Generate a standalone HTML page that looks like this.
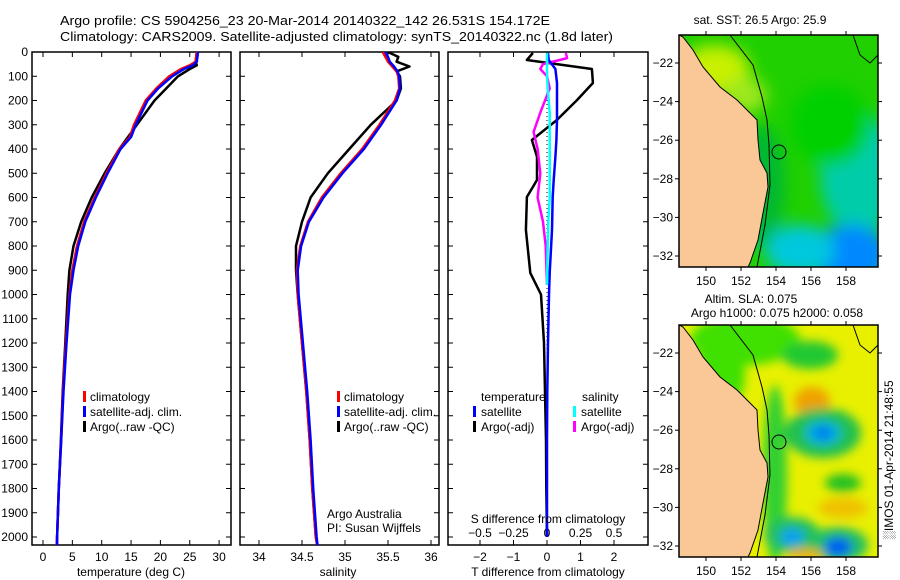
<!DOCTYPE html>
<html><head><meta charset="utf-8">
<style>
body{margin:0;background:#fff;}
svg{display:block;font-family:"Liberation Sans",sans-serif;}
text{font-size:12px;fill:#000;}
</style></head>
<body>
<svg id="fig" width="900" height="580" viewBox="0 0 900 580">
<defs>
<filter id="bl" x="-50%" y="-50%" width="200%" height="200%"><feGaussianBlur stdDeviation="8"/></filter>
<filter id="bl2" x="-50%" y="-50%" width="200%" height="200%"><feGaussianBlur stdDeviation="5"/></filter>
<clipPath id="cm1"><rect x="679" y="35" width="199" height="232"/></clipPath>
<clipPath id="cm2"><rect x="679" y="325" width="199" height="232"/></clipPath>
<clipPath id="cp1"><rect x="32" y="52" width="199" height="493"/></clipPath>
<clipPath id="cp2"><rect x="240" y="52" width="199" height="493"/></clipPath>
<clipPath id="cp3"><rect x="448" y="52" width="200" height="493"/></clipPath>
</defs>
<text x="60" y="25" textLength="490" lengthAdjust="spacingAndGlyphs" style="font-size:13px">Argo profile: CS 5904256_23 20-Mar-2014 20140322_142 26.531S 154.172E</text>
<text x="60" y="41" textLength="553" lengthAdjust="spacingAndGlyphs" style="font-size:13px">Climatology: CARS2009. Satellite-adjusted climatology: synTS_20140322.nc (1.8d later)</text>
<g id="g"></g>
</svg>
<script>
// ---- profile data ----
const tDepth = [0,40,55,70,100,150,200,300,350,400,500,600,700,800,900,1000,1200,1400,1600,1800,2000,2060];
const tClim  = [26.2,26,25,23.5,21.5,19.3,17.5,15.5,14.8,13,10.8,8.8,7,5.8,5,4.5,3.9,3.4,3.1,2.7,2.4,2.35];
const tSat   = [26.4,26.2,25.5,24,22,19.6,17.8,15.8,15,13.2,11,9,7.2,6,5.2,4.6,4,3.5,3.1,2.7,2.4,2.35];
const tArgo  = [26.2,26,26.2,25,23,21,19,16,14.5,13,10.5,8.3,6.5,5.2,4.5,4.2,3.8,3.35,3.05,2.7,2.4,2.35];
const sDepth = [0,20,40,60,80,100,150,200,300,400,500,600,700,800,900,1000,1200,1400,1600,1800,2000,2060];
const sClim  = [35.44,35.47,35.5,35.55,35.6,35.62,35.63,35.58,35.4,35.2,34.95,34.73,34.57,34.48,34.44,34.45,34.5,34.55,34.59,34.62,34.66,34.69];
const sSat   = [35.47,35.5,35.52,35.57,35.61,35.63,35.64,35.6,35.42,35.22,34.97,34.75,34.58,34.49,34.45,34.46,34.51,34.56,34.6,34.63,34.67,34.69];
const sArgo  = [35.5,35.62,35.6,35.75,35.6,35.64,35.65,35.6,35.3,35.05,34.8,34.6,34.5,34.43,34.43,34.45,34.5,34.55,34.59,34.62,34.66,34.69];
const dDepth = [4,33,70,128,198,280,363,432,528,598,734,911,1000,1200,1400,1600,1800,2000];
const dTArgo = [-0.42,-0.6,1.34,1.37,0.9,0.3,-0.45,-0.3,-0.3,-0.6,-0.63,-0.5,-0.18,-0.09,-0.06,-0.03,-0.02,0];
const dTSat  = [0.03,0.05,0.25,0.3,0.3,0.3,0.28,0.25,0.2,0.17,0.15,0.08,0.06,0.03,0.01,0,0,0];
const sdDepth= [4,25,50,70,100,150,250,330,400,500,600,700,800,960];
const dSArgo = [0.14,0.15,-0.03,-0.05,0.0,0.02,-0.05,-0.1,-0.07,-0.05,-0.07,-0.03,-0.01,0];
const dSSat  = [0,0,0,0,0,0.005,0.02,0.02,0.02,0.02,0.02,0.01,0.005,0];
const tTicks = [0,5,10,15,20,25,30];
const sTicks = [34,34.5,35,35.5,36];
const dTTicks = [-2,-1,0,1,2];
const dSTicks = [-0.5,-0.25,0,0.25,0.5];
const depthTicks = [0,100,200,300,400,500,600,700,800,900,1000,1100,1200,1300,1400,1500,1600,1700,1800,1900,2000];
const lonTicks = [150,152,154,156,158];
const latTicks = [-22,-24,-26,-28,-30,-32];

const NS='http://www.w3.org/2000/svg';
const G=document.getElementById('g');
function mk(tag,attrs,parent){const e=document.createElementNS(NS,tag);for(const k in attrs)e.setAttribute(k,attrs[k]);(parent||G).appendChild(e);return e;}
const Y=d=>52+d*0.2425;
const xT=v=>43+v*5.87;
const xS=v=>259+(v-34)*86;
const xD=v=>547+v*33.5;
const xDS=v=>547+v*134;

function panel(x0,w,name){
  const r=mk('rect',{x:x0,y:52,width:w,height:493,fill:'none',stroke:'#000','stroke-width':1.5});
  
  
  depthTicks.forEach(d=>{
    mk('line',{x1:x0,x2:x0+5,y1:Y(d),y2:Y(d),stroke:'#000'});
    mk('line',{x1:x0+w,x2:x0+w-5,y1:Y(d),y2:Y(d),stroke:'#000'});
  });
}
function xticks(vals,f,labels){
  vals.forEach(v=>{
    const x=f(v);
    mk('line',{x1:x,x2:x,y1:545,y2:540,stroke:'#000'});
    mk('line',{x1:x,x2:x,y1:52,y2:57,stroke:'#000'});
    if(labels){const t=mk('text',{x:x,y:561,'text-anchor':'middle'});t.textContent=String(v).replace('-','\u2212');
      
      }
  });
}
function line(ds,vs,fx,color,clip,name,w){
  const p=ds.map((d,i)=>(i?'L':'M')+fx(vs[i]).toFixed(1)+','+Y(d).toFixed(1)).join('');
  const e=mk('path',{d:p,fill:'none',stroke:color,'stroke-width':w||2.5,'clip-path':'url(#'+clip+')','stroke-linejoin':'round'});
  
  
}
function txt(x,y,s,name,anchor){const t=mk('text',{x:x,y:y,'text-anchor':anchor||'start'});t.textContent=s;
  
  return t;}
function bar(x,y,c){mk('rect',{x:x,y:y-10,width:3,height:11,fill:c});}

// panel 1
panel(32,199,'temperature-panel');
depthTicks.forEach(d=>{const t=mk('text',{x:28,y:Y(d)+4,'text-anchor':'end'});t.textContent=d;
  
  });
xticks(tTicks,xT,true);
line(tDepth,tArgo,xT,'#000','cp1','temp-argo-line');
line(tDepth,tClim,xT,'#f00','cp1','temp-climatology-line');
line(tDepth,tSat,xT,'#00f','cp1','temp-satellite-line');
txt(131,576,'temperature (deg C)','temperature-axis-title','middle');
bar(83,401,'#f00');txt(90,401,'climatology','legend-climatology');
bar(83,416,'#00f');txt(90,416,'satellite-adj. clim.','legend-satellite');
bar(83,431,'#000');txt(90,431,'Argo(..raw -QC)','legend-argo');

// panel 2
panel(240,199,'salinity-panel');
xticks(sTicks,xS,true);
line(sDepth,sArgo,xS,'#000','cp2','sal-argo-line');
line(sDepth,sClim,xS,'#f00','cp2','sal-climatology-line');
line(sDepth,sSat,xS,'#00f','cp2','sal-satellite-line');
txt(338,576,'salinity','salinity-axis-title','middle');
bar(337,401,'#f00');txt(344,401,'climatology','legend-climatology-2');
bar(337,416,'#00f');txt(344,416,'satellite-adj. clim.','legend-satellite-2');
bar(337,431,'#000');txt(344,431,'Argo(..raw -QC)','legend-argo-2');
txt(327,518,'Argo Australia','credit-line-1');
txt(327,532,'PI: Susan Wijffels','credit-line-2');

// panel 3
panel(448,200,'difference-panel');
xticks(dTTicks,xD,true);
dSTicks.forEach(v=>{const t=mk('text',{x:xDS(v),y:537,'text-anchor':'middle'});t.textContent=String(v).replace('-','\u2212');
  
  });
mk('line',{x1:547,x2:547,y1:52,y2:545,stroke:'#000','stroke-dasharray':'1,3'});
line(dDepth,dTArgo,xD,'#000','cp3','tdiff-argo-line');
line(sdDepth,dSArgo,xDS,'#f0f','cp3','sdiff-argo-line');
line(dDepth,dTSat,xD,'#00f','cp3','tdiff-satellite-line');
line(sdDepth,dSSat,xDS,'#0ff','cp3','sdiff-satellite-line');
txt(548,576,'T difference from climatology','tdiff-axis-title','middle');
txt(548,523,'S difference from climatology','sdiff-axis-title','middle');
txt(481,401,'temperature','legend-temperature-header');
bar(473,416,'#00f');txt(481,416,'satellite','legend-t-satellite');
bar(473,431,'#000');txt(481,431,'Argo(-adj)','legend-t-argo');
txt(582,401,'salinity','legend-salinity-header');
bar(573,416,'#0ff');txt(581,416,'satellite','legend-s-satellite');
bar(573,431,'#f0f');txt(581,431,'Argo(-adj)','legend-s-argo');

// maps
const lx=v=>706+(v-150)*17.5;
const coast=[[679,35],[683,37],[693,50],[703,67],[720,87],[737,100],[757,120],[758,140],[760,160],[767,173],[768,187],[763,213],[758,240],[750,263],[748,267],[679,267]];
function map(y0,clip,name,blobs,base,filt){
  const g=mk('g',{'clip-path':'url(#'+clip+')'});
  
  
  mk('rect',{x:679,y:y0,width:199,height:232,fill:base},g);
  const bg=mk('g',{filter:'url(#'+filt+')'},g);
  blobs.forEach(b=>mk('ellipse',{cx:b[0],cy:y0+b[1],rx:b[2],ry:b[3],fill:b[4]},bg));
  const dy=y0-35;
  mk('polygon',{points:coast.map(p=>p[0]+','+(p[1]+dy)).join(' '),fill:'#fac896',stroke:'#000','stroke-width':1},g);
  mk('path',{d:`M730,${y0} L753,${y0+30} L762,${y0+62} L767,${y0+85} L769,${y0+110} L770,${y0+150} L765,${y0+190} L757,${y0+232}`,fill:'none',stroke:'#000','stroke-width':1},g);
  mk('path',{d:`M853,${y0} L860,${y0+20} L870,${y0+28} L878,${y0+20}`,fill:'none',stroke:'#000'},g);
  mk('circle',{cx:lx(154.17),cy:y0+117,r:7,fill:'none',stroke:'#000'},g);
  mk('rect',{x:679,y:y0,width:199,height:232,fill:'none',stroke:'#000','stroke-width':1.5});
  lonTicks.forEach(v=>{mk('line',{x1:lx(v),x2:lx(v),y1:y0,y2:y0-4,stroke:'#000'});mk('line',{x1:lx(v),x2:lx(v),y1:y0+232,y2:y0+236,stroke:'#000'});
    const t=mk('text',{x:lx(v),y:y0+250,'text-anchor':'middle'});t.textContent=v;
    
    });
  latTicks.forEach(v=>{const yy=y0+28+(-22-v)*19.3;mk('line',{x1:679,x2:675,y1:yy,y2:yy,stroke:'#000'});mk('line',{x1:878,x2:882,y1:yy,y2:yy,stroke:'#000'});
    const t=mk('text',{x:673,y:yy+4,'text-anchor':'end'});t.textContent=String(v).replace('-','\u2212');
    
    });
}
map(35,'cm1','sst-map',[
 [715,35,35,25,'#c8f000'],[745,60,22,18,'#9ee81e'],[860,140,40,60,'#00ccaa'],[850,220,40,30,'#0088ff'],[800,215,35,25,'#00c8dd'],[760,150,25,60,'#00b830'],[830,90,40,40,'#00d000']
],'#20d000','bl');
map(325,'cm2','sla-map',[
 [745,15,55,25,'#40e000'],[810,30,28,14,'#20c830'],[720,50,25,35,'#40e000'],[775,150,12,90,'#30d030'],
 [812,77,18,15,'#f0a000'],
 [823,108,38,25,'#20c050'],[823,108,18,12,'#00b0e0'],[823,108,8,6,'#0070f0'],
 [843,158,18,9,'#20c020'],[843,183,25,10,'#f0c000'],
 [792,210,28,18,'#20c060'],[792,212,12,9,'#10a0f0'],
 [838,220,30,18,'#20c060'],[838,222,14,10,'#0060f0'],[805,230,18,6,'#f0b000']
],'#e8f000','bl2');
txt(760,24,'sat. SST: 26.5  Argo: 25.9','sst-map-title','middle');
txt(751,303,'Altim. SLA: 0.075','sla-title-1','middle');
txt(777,317,'Argo h1000: 0.075 h2000: 0.058','sla-title-2','middle');
const st=mk('text',{x:893,y:460,'text-anchor':'middle',transform:'rotate(-90 893 460)'});
st.textContent='\u2591IMOS 01-Apr-2014 21:48:55';


</script>
</body></html>
